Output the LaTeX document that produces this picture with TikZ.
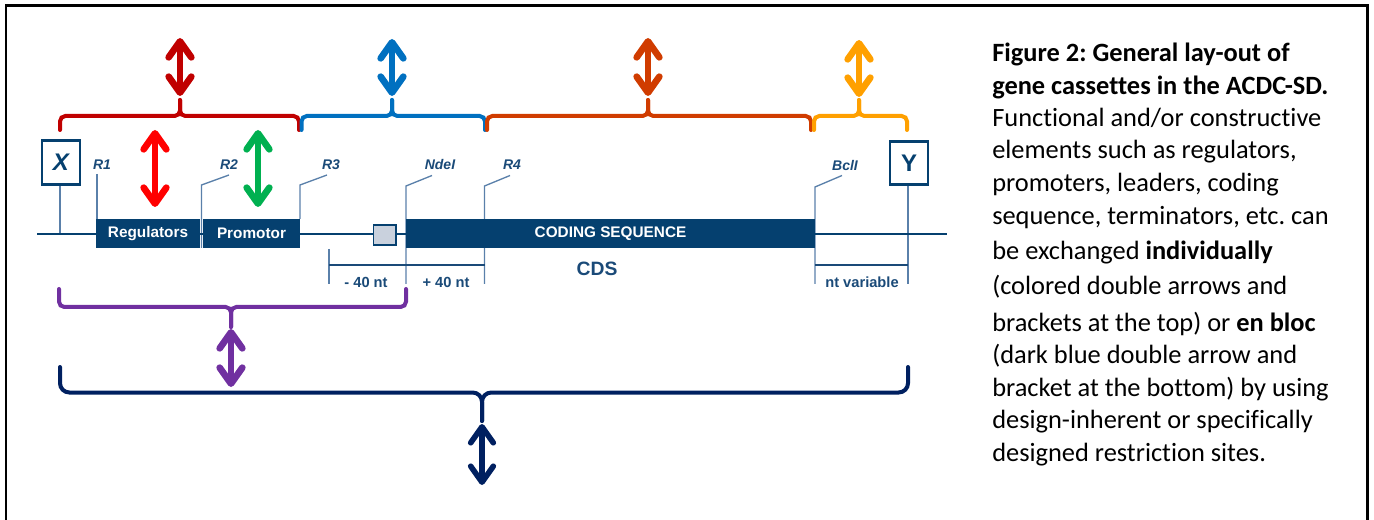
\documentclass[tikz,border=0pt]{standalone}
\usepackage{fontspec}
\setmainfont{Carlito}[Ligatures=NoCommon]
\newfontfamily\arialf{Liberation Sans}
\usetikzlibrary{arrows.meta}
\definecolor{boxblue}{HTML}{05406F}
\definecolor{lblblue}{HTML}{1A4A78}
\definecolor{thinblue}{HTML}{5A80AA}
\definecolor{cdarkred}{HTML}{C00000}
\definecolor{cblue}{HTML}{0070C0}
\definecolor{corred}{HTML}{D03C00}
\definecolor{corange}{HTML}{FFA000}
\definecolor{cred}{HTML}{FF0000}
\definecolor{cgreen}{HTML}{00B050}
\definecolor{cpurple}{HTML}{7030A0}
\definecolor{cnavy}{HTML}{002060}
\definecolor{cgray}{HTML}{C9D1DD}
\frenchspacing
\begin{document}
\begin{tikzpicture}[x=0.75pt,y=-0.75pt,
  bracketline/.style={line width=3pt, rounded corners=4pt, line cap=round},
  dblarrow/.style={line width=5pt,
    arrows={Straight Barb[length=12pt,width=17pt,round]-Straight Barb[length=12pt,width=17pt,round]}},
  thinline/.style={draw=thinblue, line width=1pt},
  seqbox/.style={fill=boxblue, draw=none, inner sep=0pt, text=white,
    font=\arialf\bfseries\fontsize{11.5}{13}\selectfont},
  endbox/.style={draw=boxblue, line width=2.2pt, fill=white, inner sep=0pt,
    minimum width=28.5pt, minimum height=32.5pt, text=boxblue,
    font=\arialf\bfseries\fontsize{18}{20}\selectfont},
  sitelbl/.style={text=lblblue, inner sep=0pt, font=\arialf\bfseries\itshape\fontsize{10.5}{13}\selectfont},
  dimlbl/.style={text=lblblue, inner sep=0pt, font=\arialf\bfseries\fontsize{11}{13}\selectfont},
  caption/.style={anchor=base west, inner sep=0pt, text=black, font=\fontsize{19.8}{24}\selectfont}
]
\useasboundingbox (0,0) rectangle (1374,520);
% frame
\draw[line width=2pt, black] (6,521) -- (6,5.5) -- (1367.5,5.5) -- (1367.5,521);

% ---- site leader lines (drawn first, boxes on top)
\coordinate (xl0) at (60,184); \coordinate (xl1) at (60,234);
\draw[thinline] (xl0) -- (xl1);
\coordinate (r1a) at (97,174); \coordinate (r1b) at (97,219);
\draw[thinline] (r1a) -- (r1b);
\coordinate (r2t) at (229,175); \coordinate (r2a) at (201.5,185); \coordinate (r2b) at (201.5,248);
\draw[thinline] (r2t) -- (r2a) -- (r2b);
\coordinate (r3t) at (327,175); \coordinate (r3a) at (300,185); \coordinate (r3b) at (300,219);
\draw[thinline] (r3t) -- (r3a) -- (r3b);
\coordinate (ndt) at (432,175.5); \coordinate (nda) at (406,186); \coordinate (ndb) at (406,284);
\draw[thinline] (ndt) -- (nda) -- (ndb);
\coordinate (r4t) at (510,175.5); \coordinate (r4a) at (484.5,186); \coordinate (r4b) at (484.5,284);
\draw[thinline] (r4t) -- (r4a) -- (r4b);
\coordinate (bct) at (842,175.5); \coordinate (bca) at (815,187); \coordinate (bcb) at (815,284);
\draw[thinline] (bct) -- (bca) -- (bcb);
\coordinate (yl0) at (908,185); \coordinate (yl1) at (908,284);
\draw[thinline] (yl0) -- (yl1);
\coordinate (m40a) at (329,249); \coordinate (m40b) at (329,284);
\draw[thinline] (m40a) -- (m40b);
% dimension lines
\coordinate (d1a) at (329,265); \coordinate (d1b) at (484.5,265);
\draw[draw=lblblue, line width=1pt] (d1a) -- (d1b);
\coordinate (d2a) at (815,265); \coordinate (d2b) at (908,265);
\draw[draw=lblblue, line width=1pt] (d2a) -- (d2b);

% ---- main line
\coordinate (ml0) at (37,234); \coordinate (ml1) at (947,234);
\draw[boxblue, line width=2.2pt] (ml0) -- (ml1);

% ---- sequence boxes
\node[seqbox, minimum width=78pt, minimum height=21.75pt] (reg) at (148,233.5) {Regulators};
\node[seqbox, minimum width=72.75pt, minimum height=21.75pt] (prom) at (251.5,233.5) {Promotor};
\node[seqbox, minimum width=306.75pt, minimum height=21.75pt] (cds) at (610.5,233.5) {CODING SEQUENCE};
\node[draw=boxblue, line width=1pt, fill=cgray, inner sep=0pt, minimum width=17pt, minimum height=15pt] (lead) at (384.5,235) {};

% ---- end boxes
\node[endbox] (xbox) at (61,162.5) {\itshape X};
\node[endbox] (ybox) at (909,163) {Y};

% ---- site labels
\node[sitelbl] (lr1) at (102,165) {R1};
\node[sitelbl] (lr2) at (229,165) {R2};
\node[sitelbl] (lr3) at (331,165) {R3};
\node[sitelbl] (lnd) at (440,165) {NdeI};
\node[sitelbl] (lr4) at (512,165) {R4};
\node[sitelbl] (lbc) at (845,165) {BclI};

% ---- dimension labels
\node[dimlbl] (m40) at (366,282) {- 40 nt};
\node[dimlbl] (p40) at (446,282) {+ 40 nt};
\node[dimlbl] (ntv) at (862,282) {nt variable};
\node[text=lblblue, inner sep=0pt, font=\arialf\bfseries\fontsize{14.5}{16}\selectfont] (cdsl) at (597,269) {CDS};

% ---- top brackets
\draw[bracketline, cdarkred] (60,130) -- (60,116) -- (180,116) -- (180,100);
\draw[bracketline, cdarkred] (299,130) -- (299,116) -- (180,116) -- (180,100);
\draw[bracketline, cblue] (301.5,130) -- (301.5,116) -- (392,116) -- (392,100);
\draw[bracketline, cblue] (485,130) -- (485,116) -- (392,116) -- (392,100);
\draw[bracketline, corred] (487,130) -- (487,116) -- (648,116) -- (648,100);
\draw[bracketline, corred] (811,130) -- (811,116) -- (648,116) -- (648,100);
\draw[bracketline, corange] (814,130) -- (814,116) -- (859,116) -- (859,100);
\draw[bracketline, corange] (907,130) -- (907,116) -- (859,116) -- (859,100);
% ---- bottom brackets
\draw[bracketline, cpurple] (59,289) -- (59,307) -- (231,307) -- (231,327);
\draw[bracketline, cpurple] (406,289) -- (406,307) -- (231,307) -- (231,327);
\draw[bracketline, cnavy, rounded corners=7pt] (60,367) -- (60,392.5) -- (482,392.5) -- (482,421);
\draw[bracketline, cnavy, rounded corners=7pt] (908,367) -- (908,392.5) -- (482,392.5) -- (482,421);

% ---- double arrows
\coordinate (a1t) at (180,38); \coordinate (a1b) at (180,96);
\draw[dblarrow, cdarkred] (a1t) -- (a1b);
\coordinate (a2t) at (392,39); \coordinate (a2b) at (392,96);
\draw[dblarrow, cblue] (a2t) -- (a2b);
\coordinate (a3t) at (648,38); \coordinate (a3b) at (648,96);
\draw[dblarrow, corred] (a3t) -- (a3b);
\coordinate (a4t) at (859,40); \coordinate (a4b) at (859,97);
\draw[dblarrow, corange] (a4t) -- (a4b);
\coordinate (a5t) at (155,130); \coordinate (a5b) at (155,207);
\draw[dblarrow, cred] (a5t) -- (a5b);
\coordinate (a6t) at (258,130); \coordinate (a6b) at (258,207);
\draw[dblarrow, cgreen] (a6t) -- (a6b);
\coordinate (a7t) at (231,329); \coordinate (a7b) at (231,387);
\draw[dblarrow, cpurple] (a7t) -- (a7b);
\coordinate (a8t) at (482,424); \coordinate (a8b) at (482,485);
\draw[dblarrow, cnavy, line width=4.2pt] (a8t) -- (a8b);

% ---- caption
\node[caption] (c1) at (992,61.7) {\bfseries Figure 2: General lay-out of};
\node[caption] (c2) at (992,95) {\bfseries gene cassettes in the ACDC-SD.};
\node[caption] (c3) at (992,126.7) {Functional and/or constructive};
\node[caption] (c4) at (992,158.3) {elements such as regulators,};
\node[caption] (c5) at (992,192) {promoters, leaders, coding};
\node[caption] (c6) at (992,225) {sequence, terminators, etc. can};
\node[caption] (c7) at (992,260) {be exchanged \textbf{individually}};
\node[caption] (c8) at (992,295) {(colored double arrows and};
\node[caption] (c9) at (992,331.7) {brackets at the top) or \textbf{en bloc}};
\node[caption] (c10) at (992,363) {(dark blue double arrow and};
\node[caption] (c11) at (992,396.7) {bracket at the bottom) by using};
\node[caption] (c12) at (992,428) {design-inherent or specifically};
\node[caption] (c13) at (992,461.7) {designed restriction sites.};
\end{tikzpicture}
\end{document}
